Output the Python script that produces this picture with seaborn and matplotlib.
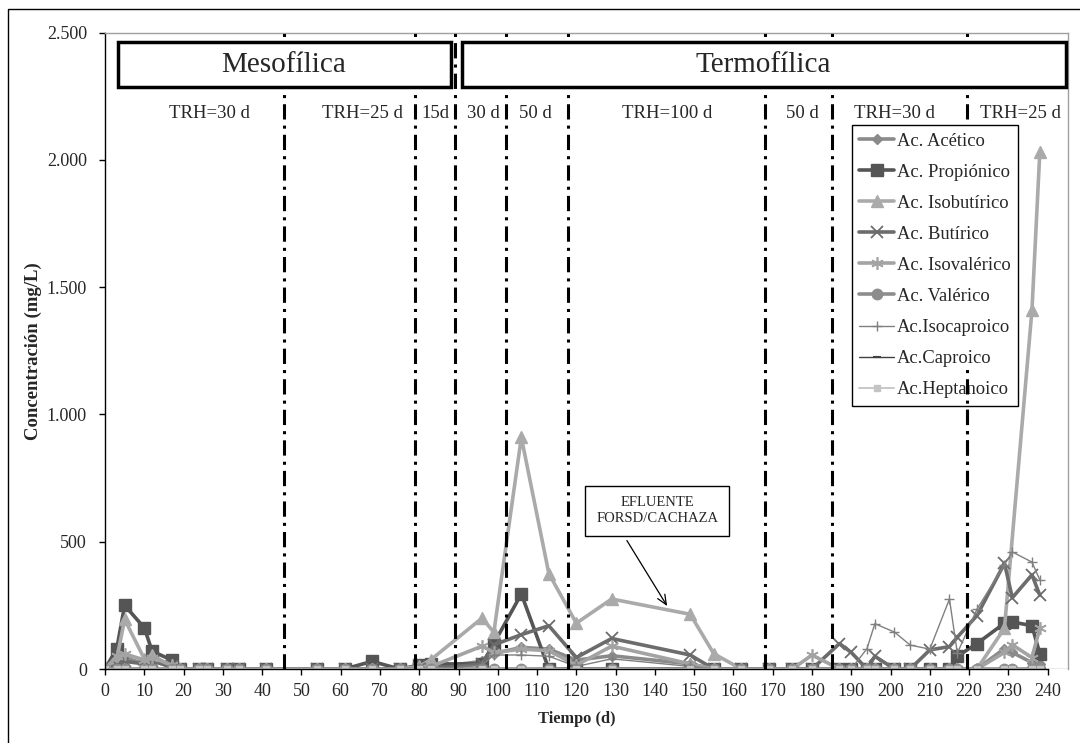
import numpy as np
import pandas as pd
import matplotlib
matplotlib.use("Agg")
import matplotlib.pyplot as plt
import seaborn as sns
from matplotlib.patches import Rectangle
from matplotlib.ticker import FuncFormatter, MultipleLocator

nan = np.nan
# ---------------- data ----------------
days = [0, 3, 5, 10, 12, 17, 19, 24, 26, 31,
        34, 41, 54, 61, 68, 75, 80, 83, 96, 99,
        106, 113, 120, 129, 149, 155, 162, 169, 175, 180,
        187, 190, 194, 196, 201, 205, 210, 215, 217, 222,
        229, 231, 236, 238]

acetico = [0, 25, 45, 20, 35, 5, 0, 0, 0, 0,
           0, 0, 0, 0, 0, 0, 0, 5, 30, 60,
           85, 78, 35, 52, 20, 0, 0, 0, 0, 0,
           0, 0, 0, 0, 0, 0, 0, 0, 0, 0,
           80, 65, 25, 20]
propionico = [0, 80, 250, 162, 70, 35, 0, 0, 0, 0,
              0, 0, 0, 0, 30, 0, 15, 20, 20, 100,
              295, 0, 0, 0, 0, 0, 0, 0, 0, 0,
              0, 0, 0, 0, 0, 0, 0, 0, 50, 100,
              180, 185, 170, 60]
isobutirico = [0, 40, 195, 40, 55, 10, 0, 0, 0, 0,
               0, 0, 0, 0, 0, 0, 10, 37, 200, 144,
               910, 375, 180, 275, 215, 60, 0, 0, 0, 0,
               0, 0, 0, 0, 0, 0, 0, 0, 0, 0,
               160, nan, 1410, 2030]
butirico = [0, 15, 30, 20, 30, 10, 0, 0, 0, 0,
            0, 0, 0, 0, 0, 0, 0, 0, 20, 95,
            135, 170, 45, 120, 55, 0, 0, 0, 0, 0,
            100, 65, 0, 50, 0, 0, 75, 88, 125, 210,
            415, 280, 370, 290]
isovalerico = [0, 50, 60, 35, 45, 15, 0, 0, 0, 0,
               0, 0, 0, 0, 0, 0, 5, 10, 90, 65,
               78, 72, 15, 90, 20, 0, 0, 0, 0, 55,
               0, 0, 0, 0, 0, 0, 0, 0, 0, 0,
               65, 95, 45, 160]
valerico = [0, 0, 0, 0, 0, 0, 0, 0, 0, 0,
            0, 0, 0, 0, 0, 0, 0, 0, 0, 0,
            0, 0, 0, 0, 0, 0, 0, 0, 0, 0,
            0, 0, 0, 0, 0, 0, 0, 0, 0, 0,
            0, 0, 0, 0]
isocaproico = [0, 0, 0, 0, 0, 0, 0, 0, 0, 0,
               0, 0, 0, 0, 0, 0, 0, 0, 15, 55,
               55, 50, 10, 40, 10, 0, 0, 0, 0, 0,
               0, 0, 80, 178, 145, 94, 78, 275, 62, 235,
               410, 460, 420, 350]
caproico = [0, 0, 0, 0, 0, 0, 0, 0, 0, 0,
            0, 0, 0, 0, 0, 0, 0, 0, 0, 0,
            0, 0, 0, 0, 0, 0, 0, 0, 0, 0,
            0, 0, 0, 0, 0, 0, 0, 0, 0, 0,
            0, 0, 0, 0]
heptanoico = [0, 0, 0, 0, 0, 0, 0, 0, 0, 0,
              0, 0, 0, 0, 0, 0, 0, 0, 0, 0,
              0, 0, 0, 0, 0, 0, 0, 0, 0, 0,
              0, 0, 0, 0, 0, 0, 0, 0, 0, 0,
              0, 0, 0, 0]

series_names = ["Ac. Acético", "Ac. Propiónico", "Ac. Isobutírico", "Ac. Butírico",
                "Ac. Isovalérico", "Ac. Valérico", "Ac.Isocaproico", "Ac.Caproico",
                "Ac.Heptanoico"]
series_values = [acetico, propionico, isobutirico, butirico, isovalerico,
                 valerico, isocaproico, caproico, heptanoico]

# phase boundaries (days) and labels
boundaries = [45.5, 79, 89, 102, 118, 168, 185, 219.5]
trh_labels = ["TRH=30 d", "TRH=25 d", "15d", "30 d", "50 d", "TRH=100 d",
              "50 d", "TRH=30 d", "TRH=25 d"]
trh_pos = [26.5, 65.5, 84, 96.3, 109.5, 143, 177.5, 201, 233]

# ---------------- style ----------------
sns.set_style("white")
plt.rcParams["font.family"] = ["Liberation Serif", "DejaVu Serif"]
plt.rcParams["axes.unicode_minus"] = False

styles = [
    dict(color="#8a8a8a", marker="D", markersize=5.5, linewidth=2.6, markeredgewidth=1),
    dict(color="#555555", marker="s", markersize=8, linewidth=2.6, markeredgewidth=1),
    dict(color="#aaaaaa", marker="^", markersize=8.5, linewidth=2.6, markeredgewidth=1),
    dict(color="#6c6c6c", marker="x", markersize=9, linewidth=2.6, markeredgewidth=1.3),
    dict(color="#a3a3a3", marker=(6, 2, 0), markersize=9, linewidth=2.6, markeredgewidth=1.2),
    dict(color="#8d8d8d", marker="o", markersize=7.5, linewidth=2.6, markeredgewidth=1),
    dict(color="#808080", marker="+", markersize=7, linewidth=1.0, markeredgewidth=1.0),
    dict(color="#404040", marker="_", markersize=6, linewidth=1.0, markeredgewidth=1.5),
    dict(color="#c4c4c4", marker="s", markersize=4.5, linewidth=1.3, markeredgewidth=1),
]

fig = plt.figure(figsize=(10.8, 7.43), dpi=100)
ax = fig.add_axes([105 / 1080, 74 / 743, (1067.7 - 105) / 1080, (669 - 32.7) / 743])

for name, vals, st in zip(series_names, series_values, styles):
    d = pd.DataFrame({"Tiempo": days, "Conc": vals}).dropna()
    sns.lineplot(data=d, x="Tiempo", y="Conc", ax=ax, label=name,
                 markeredgecolor=st["color"], zorder=2, **st)

ax.set_xlim(0, 245.1)
ax.set_ylim(0, 2500)
ax.set_xticks(np.arange(0, 241, 10))
ax.yaxis.set_major_locator(MultipleLocator(500))
ax.yaxis.set_major_formatter(FuncFormatter(lambda v, p: f"{int(v):,}".replace(",", ".")))
ax.tick_params(axis="both", labelsize=13, direction="out", length=4, width=1, color="black")
ax.tick_params(axis="y", pad=9, left=True)
ax.tick_params(axis="x", pad=6, bottom=True)

for s in ["top", "right"]:
    ax.spines[s].set_color("#a0a0a0")
    ax.spines[s].set_linewidth(1)
ax.spines["left"].set_color("black")
ax.spines["left"].set_linewidth(1)
ax.spines["bottom"].set_color("black")
ax.spines["bottom"].set_linewidth(1)
ax.spines["bottom"].set_bounds(0, 240)
ax.axhline(0, xmin=240 / 245.1, xmax=1, color="#a0a0a0", lw=1, zorder=1)

ax.set_xlabel("Tiempo (d)", fontsize=11.8, fontweight="bold")
ax.set_ylabel("Concentración (mg/L)", fontsize=13.5, fontweight="bold")
ax.xaxis.set_label_coords(120 / 245.1, -0.066)
ax.yaxis.set_label_coords(-0.065, 0.5)

# vertical dash-dot phase lines
for b in boundaries:
    ax.axvline(b, color="black", lw=2.2, linestyle=(0, (5, 2, 1, 2)),
               dash_capstyle="butt", zorder=3)
# part of last line visible over legend
ax.plot([219.5, 219.5], [0, 1190], color="black", lw=2.2,
        linestyle=(0, (5, 2, 1, 2)), dash_capstyle="butt", zorder=6)

# header boxes
ax.add_patch(Rectangle((3.2, 2285), 88 - 3.2, 2465 - 2285, fc="white", ec="black",
                       lw=2.5, zorder=4))
ax.add_patch(Rectangle((90.8, 2285), 244.6 - 90.8, 2465 - 2285, fc="white", ec="black",
                       lw=2.5, zorder=4, clip_on=False))
ax.text(45.6, 2372, "Mesofílica", ha="center", va="center", fontsize=21, zorder=5)
ax.text(167.6, 2372, "Termofílica", ha="center", va="center", fontsize=21, zorder=5)

for lab, xp in zip(trh_labels, trh_pos):
    ax.text(xp, 2182, lab, ha="center", va="center", fontsize=13.5, zorder=5,
            bbox=dict(fc="white", ec="none", pad=0.5))

# annotation
ax.text(140.6, 622, "EFLUENTE\nFORSD/CACHAZA", ha="center", va="center", fontsize=10.5,
        linespacing=1.25, zorder=5,
        bbox=dict(boxstyle="square,pad=0.75", fc="white", ec="black", lw=1))
ax.annotate("", xy=(143.5, 238), xytext=(132.5, 514),
            arrowprops=dict(arrowstyle="->,head_length=0.7,head_width=0.3",
                            color="black", lw=0.9), zorder=5)

leg = ax.legend(loc="upper left", bbox_to_anchor=(851.7 / 1080, 1 - 125 / 743),
                bbox_transform=fig.transFigure, frameon=True, fancybox=False,
                edgecolor="black", framealpha=1, borderaxespad=0, fontsize=13.3,
                labelspacing=0.76, handlelength=1.85, handletextpad=0.18, borderpad=0.42)
leg.get_frame().set_linewidth(1)
leg.set_zorder(5)

# outer chart border
fig.patches.append(Rectangle((8 / 1080, -0.05), 1.2, 1 - 8.5 / 743 + 0.05,
                             transform=fig.transFigure, fill=False, ec="black", lw=1))

fig.savefig("out.png", dpi=100)
